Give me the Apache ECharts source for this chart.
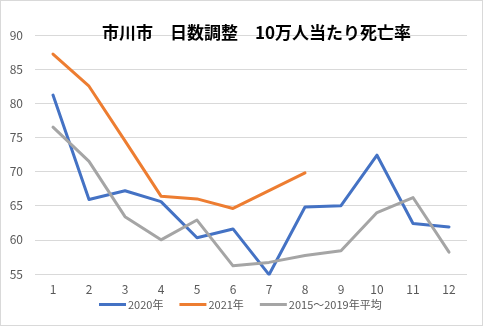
<!DOCTYPE html>
<html>
<head>
<meta charset="utf-8">
<script src="https://cdn.jsdelivr.net/npm/echarts@6/dist/echarts.min.js"></script>
<style>
  html, body { margin: 0; padding: 0; background: #ffffff; }
  #chart { width: 483px; height: 326px; box-sizing: border-box; border: 1px solid #d9d9d9; background: #ffffff; }
</style>
</head>
<body>
<div id="chart"></div>
<script>
// Months on the category axis
const months = ['1', '2', '3', '4', '5', '6', '7', '8', '9', '10', '11', '12'];

// Day-adjusted deaths per 100,000 people, by month
const rate2020 = [81.2, 65.9, 67.2, 65.6, 60.3, 61.6, 54.9, 64.8, 65.0, 72.4, 62.4, 61.9];
const rate2021 = [87.2, 82.5, 74.5, 66.4, 66.0, 64.6, 67.2, 69.8];
const rateAvg = [76.5, 71.5, 63.4, 60.0, 62.9, 56.2, 56.7, 57.7, 58.4, 64.0, 66.2, 58.2];

const seriesNames = ['2020年', '2021年', '2015～2019年平均'];
const seriesColors = ['#4472C4', '#ED7D31', '#A5A5A5'];

const FONT = '"Noto Sans CJK JP", "Noto Sans", sans-serif';

const chart = echarts.init(document.getElementById('chart'), null, { renderer: 'canvas' });

function lineSeries(name, data, color) {
  return {
    name: name,
    type: 'line',
    data: data,
    showSymbol: false,
    symbol: 'none',
    smooth: false,
    lineStyle: { color: color, width: 3, cap: 'round', join: 'round' },
    itemStyle: { color: color },
    emphasis: { disabled: true }
  };
}

chart.setOption({
  animation: false,
  backgroundColor: '#ffffff',
  title: {
    text: '市川市　日数調整　10万人当たり死亡率',
    left: 101,
    top: 23,
    padding: 0,
    textStyle: { fontFamily: FONT, fontSize: 17, fontWeight: 'bold', color: '#000000' }
  },
  grid: { left: 34, right: 15, top: 34, bottom: 51 },
  legend: {
    bottom: 10,
    left: 93,
    icon: 'rect',
    itemWidth: 27,
    itemHeight: 3,
    itemGap: 16,
    textStyle: { fontFamily: FONT, fontSize: 11, color: '#595959', padding: [0, 0, 0, -3] },
    data: seriesNames
  },
  xAxis: {
    type: 'category',
    data: months,
    boundaryGap: true,
    axisLine: { show: false },
    axisTick: { show: false },
    axisLabel: { fontFamily: FONT, fontSize: 12, color: '#595959', margin: 9 }
  },
  yAxis: {
    type: 'value',
    min: 55,
    max: 90,
    interval: 5,
    axisLine: { show: false },
    axisTick: { show: false },
    axisLabel: { fontFamily: FONT, fontSize: 12, color: '#595959', margin: 12 },
    splitLine: { lineStyle: { color: '#d9d9d9', width: 1 } }
  },
  series: [
    lineSeries(seriesNames[0], rate2020, seriesColors[0]),
    lineSeries(seriesNames[1], rate2021, seriesColors[1]),
    lineSeries(seriesNames[2], rateAvg, seriesColors[2])
  ]
});
</script>
</body>
</html>
